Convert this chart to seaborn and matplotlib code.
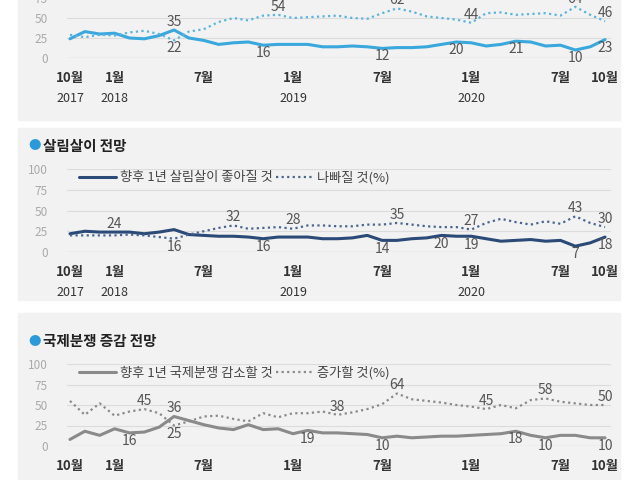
import numpy as np
import pandas as pd
import matplotlib
matplotlib.use("Agg")
import matplotlib.pyplot as plt
import matplotlib.transforms as mtransforms
from matplotlib.patches import Rectangle
import seaborn as sns

# monthly, Oct 2017 .. Oct 2020 (37 points)
months = np.arange(37)

econ_better = [24, 33, 30, 31, 25, 24, 28, 35, 25, 22, 17, 19, 20, 16, 17, 17, 17, 14, 14, 15, 14,
               12, 13, 13, 14, 17, 20, 19, 15, 17, 21, 20, 15, 16, 10, 14, 23]
econ_worse = [29, 26, 29, 28, 32, 34, 30, 22, 33, 36, 45, 50, 47, 53, 54, 50, 51, 52, 53, 50, 49,
              56, 62, 58, 52, 50, 48, 44, 56, 57, 54, 55, 56, 53, 64, 54, 46]

life_better = [22, 25, 24, 24, 24, 22, 24, 27, 21, 20, 19, 19, 18, 16, 18, 18, 18, 16, 16, 17, 20,
               14, 14, 16, 17, 20, 19, 19, 16, 13, 14, 15, 13, 14, 7, 11, 18]
life_worse = [20, 20, 20, 20, 21, 20, 18, 16, 21, 25, 29, 32, 28, 29, 30, 28, 32, 32, 31, 31, 33,
              33, 35, 33, 31, 30, 30, 27, 35, 40, 36, 33, 37, 34, 43, 35, 30]

war_less = [8, 18, 13, 21, 16, 17, 23, 36, 31, 26, 22, 20, 26, 20, 21, 15, 19, 16, 16, 15, 14,
            10, 12, 10, 11, 12, 12, 13, 14, 15, 18, 13, 10, 13, 13, 10, 10]
war_more = [55, 38, 52, 37, 42, 45, 40, 25, 30, 36, 37, 33, 30, 40, 35, 40, 40, 42, 38, 41, 45,
            51, 64, 57, 55, 53, 50, 48, 45, 50, 46, 56, 58, 54, 52, 50, 50]

# labelled points: (month index, series key)
econ_labels = [(7, "b"), (7, "w"), (13, "b"), (14, "w"), (21, "b"), (22, "w"), (26, "b"),
               (27, "w"), (30, "b"), (34, "b"), (34, "w"), (36, "b"), (36, "w")]
life_labels = [(3, "b"), (7, "w"), (11, "w"), (13, "b"), (15, "w"), (21, "b"), (22, "w"),
               (25, "b"), (27, "b"), (27, "w"), (34, "b"), (34, "w"), (36, "b"), (36, "w")]
war_labels = [(4, "b"), (5, "w"), (7, "b"), (7, "w"), (16, "b"), (18, "w"), (21, "b"), (22, "w"),
              (28, "w"), (30, "b"), (32, "b"), (32, "w"), (36, "b"), (36, "w")]

month_ticks = {0: "10월", 3: "1월", 9: "7월", 15: "1월", 21: "7월", 27: "1월", 33: "7월", 36: "10월"}
year_ticks = {0: "2017", 3: "2018", 15: "2019", 27: "2020"}

sns.set_style("white")
font = "Noto Sans CJK JP"
plt.rcParams["font.family"] = font
plt.rcParams["font.sans-serif"] = [font, "DejaVu Sans"]

fig = plt.figure(figsize=(6.4, 4.8), dpi=100)
H = 480.0
for y0, y1 in [(-5, 120), (128, 300), (313, 485)]:
    fig.patches.append(Rectangle((18 / 640, 1 - y1 / H), 602 / 640, (y1 - y0) / H,
                                 transform=fig.transFigure, color="#f2f2f2", zorder=-10))


def panel(top_px, bottom_px, better, worse, col, wcol, labels, leg=None):
    hpx = bottom_px - top_px
    ax = fig.add_axes([67 / 640, 1 - bottom_px / H, 544 / 640, hpx / H])
    ax.set_facecolor("none")
    df = pd.DataFrame({"m": months, "b": better, "w": worse})
    sns.lineplot(data=df, x="m", y="b", ax=ax, color=col, lw=2.2, label=leg[0] if leg else None)
    sns.lineplot(data=df, x="m", y="w", ax=ax, color=wcol, lw=1.6, ls=(0, (1, 1.5)),
                 label=leg[1] if leg else None)
    ax.set_xlim(-0.2, 36.4)
    ax.set_ylim(0, 100)
    ax.set_yticks([0, 25, 50, 75, 100])
    ax.set_yticklabels(["0", "25", "50", "75", "100"], color="#aaaaaa", fontsize=8.5)
    ax.tick_params(axis="y", length=0, pad=14)
    for v in [25, 50, 75, 100]:
        ax.axhline(v, color="#dcdcdc", lw=0.8, zorder=0)
    ax.axhline(0, color="#888888", lw=0.8, zorder=0)
    ax.set_xticks(months)
    ax.set_xticklabels([])
    ax.tick_params(axis="x", length=4, color="#888888", direction="in")
    ax.set_xlabel("")
    ax.set_ylabel("")
    for s in ax.spines.values():
        s.set_visible(False)
    tr = mtransforms.blended_transform_factory(ax.transData, ax.transAxes)
    for i, t in month_ticks.items():
        ax.text(i, -20 / hpx, t, transform=tr, ha="center", va="center", fontsize=9.5,
                fontweight="bold", color="#333333")
    for i, t in year_ticks.items():
        ax.text(i, -41 / hpx, t, transform=tr, ha="center", va="center", fontsize=9,
                color="#333333")
    for i, k in labels:
        v = better[i] if k == "b" else worse[i]
        other = worse[i] if k == "b" else better[i]
        off = 10 if v >= other else -10
        ax.text(i, v + off, str(v), ha="center", va="center", fontsize=10, color="#555555",
                clip_on=False)
    if leg:
        ax.legend(loc="upper left", ncol=2, frameon=False, fontsize=9.5, handlelength=2.8,
                  columnspacing=0.3, handletextpad=0.3, bbox_to_anchor=(0.0, 1.12),
                  labelcolor="#444444")
    elif ax.get_legend():
        ax.get_legend().remove()
    return ax


panel(-22, 58, econ_better, econ_worse, "#3aa8dc", "#5ab4e0", econ_labels)
panel(169, 252, life_better, life_worse, "#2b4a78", "#4a6690", life_labels,
      ["향후 1년 살림살이 좋아질 것", "나빠질 것(%)"])
panel(364, 446, war_less, war_more, "#8a8a8a", "#8a8a8a", war_labels,
      ["향후 1년 국제분쟁 감소할 것", "증가할 것(%)"])

fig.text(28 / 640, 1 - 146 / H, "●", color="#2a9ad8", fontsize=9, va="center")
fig.text(43 / 640, 1 - 146 / H, "살림살이 전망", color="#222222", fontsize=10.5,
         fontweight="bold", va="center")
fig.text(28 / 640, 1 - 341 / H, "●", color="#2a9ad8", fontsize=9, va="center")
fig.text(43 / 640, 1 - 341 / H, "국제분쟁 증감 전망", color="#222222", fontsize=10.5,
         fontweight="bold", va="center")

fig.savefig("out.png", dpi=100)
